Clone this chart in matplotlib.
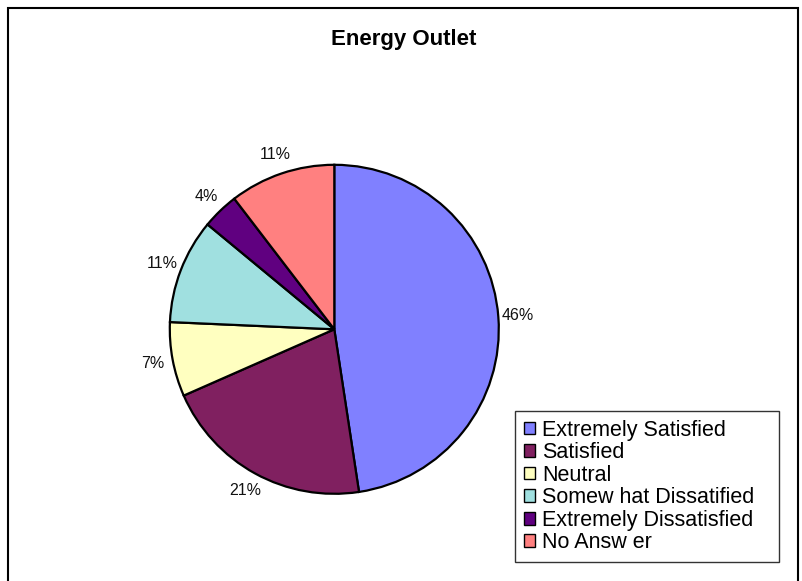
import numpy as np
import matplotlib
matplotlib.use("Agg")
import matplotlib.pyplot as plt
from matplotlib.patches import Rectangle, Patch

plt.rcParams['font.family'] = ['Liberation Sans', 'DejaVu Sans']

# ---- data ----
title = "Energy Outlet"
categories = ["Extremely Satisfied", "Satisfied", "Neutral",
              "Somew hat Dissatified", "Extremely Dissatisfied", "No Answ er"]
values = [47.6, 20.8, 7.3, 10.3, 3.6, 10.4]
pct_labels = ["46%", "21%", "7%", "11%", "4%", "11%"]
colors = ["#8080FF", "#802060", "#FFFFC0", "#A0E0E0", "#600080", "#FF8080"]

W, H = 802, 581
fig = plt.figure(figsize=(W / 100, H / 100), dpi=100)
ax = fig.add_axes([0, 0, 1, 1])

cx, cy, r = 334.3, H - 329.3, 164.5
wedges, _ = ax.pie(values, colors=colors, startangle=90, counterclock=False,
                   center=(cx, cy), radius=r, frame=True,
                   wedgeprops=dict(edgecolor="black", linewidth=1.6))

ax.set_xlim(0, W)
ax.set_ylim(0, H)
ax.set_aspect("equal")
ax.axis("off")

# percentage labels around the pie
for w, lab in zip(wedges, pct_labels):
    mid = np.deg2rad((w.theta1 + w.theta2) / 2)
    d = r * 1.12
    ax.text(cx + d * np.cos(mid), cy + d * np.sin(mid), lab,
            ha="center", va="center", fontsize=11.5, color="#111111")

# title
ax.text(404, H - 40, title, ha="center", va="center",
        fontsize=16, fontweight="bold")

# outer frame
ax.add_patch(Rectangle((7.5, -6), 790, (H - 7.5) + 6, fill=False,
                       edgecolor="black", linewidth=1.5, clip_on=False))

# legend
handles = [Patch(facecolor=c, edgecolor="black", linewidth=1.0) for c in colors]
leg = ax.legend(handles, categories, loc="upper left",
                bbox_to_anchor=(515, 18, 264, 152), bbox_transform=ax.transData,
                mode="expand", borderaxespad=0, fontsize=15.5,
                handlelength=0.55, handleheight=0.55, handletextpad=0.3,
                labelspacing=0.07, borderpad=0.4, fancybox=False,
                frameon=True, edgecolor="black")
leg.get_frame().set_linewidth(1.0)

fig.savefig("out.png", dpi=100)
